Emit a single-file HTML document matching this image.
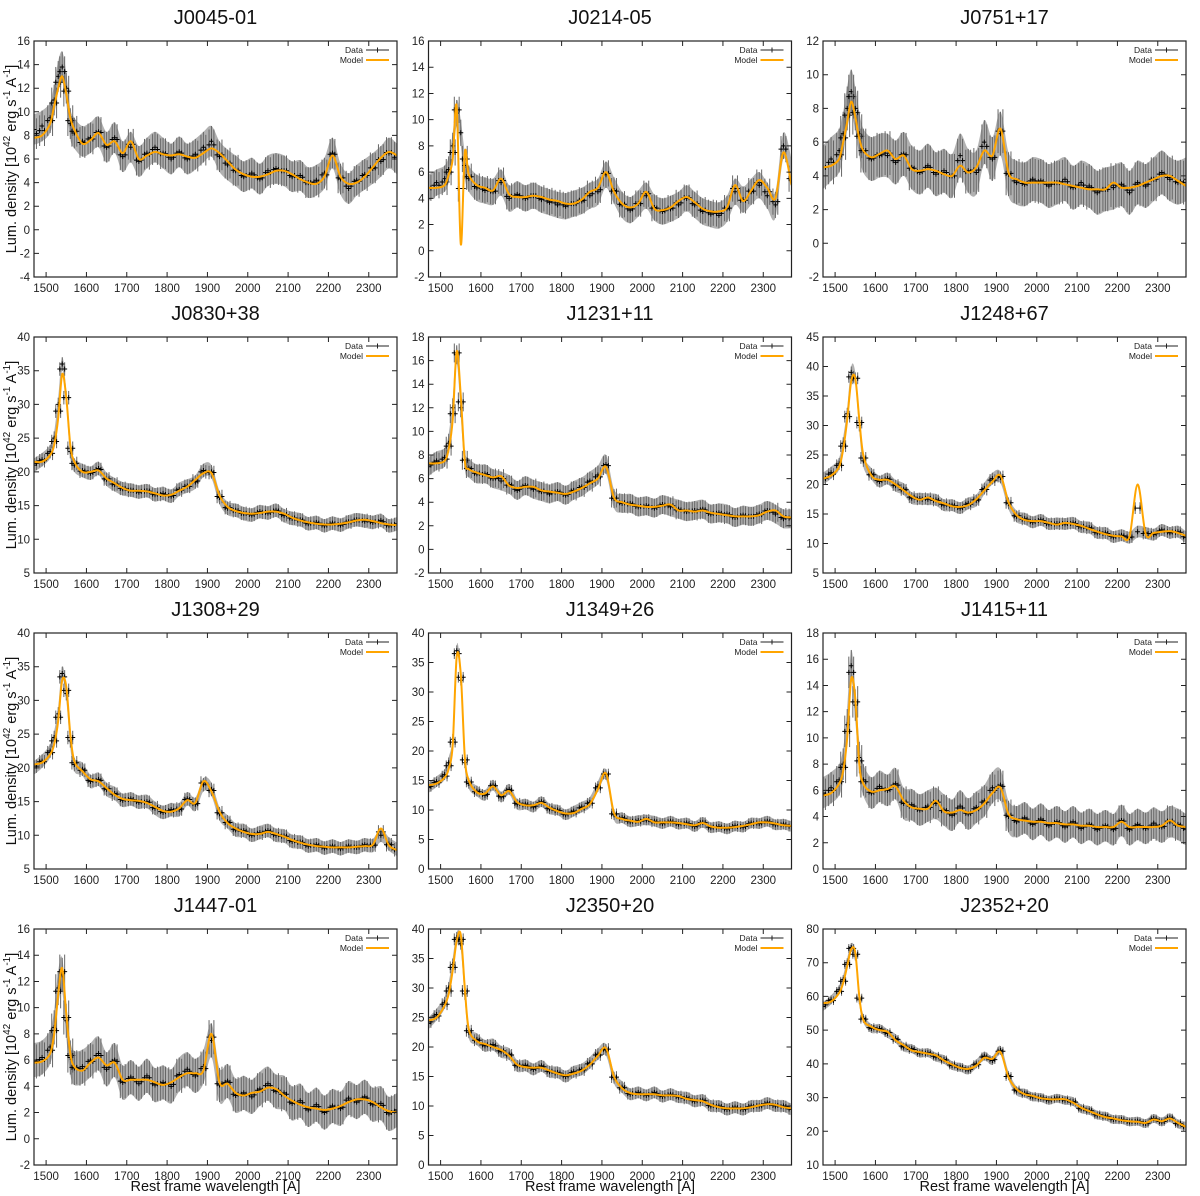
<!DOCTYPE html>
<html><head><meta charset="utf-8">
<style>
html,body{margin:0;padding:0;background:#fff;}
svg{display:block;font-family:"Liberation Sans","DejaVu Sans",sans-serif;}
</style></head>
<body>
<svg id="fig" width="1200" height="1196" viewBox="0 0 1200 1196" xmlns="http://www.w3.org/2000/svg"></svg>
<script>
// Shared wavelength grid (Angstrom)
const grid = [1470,1490,1510,1520,1530,1540,1550,1560,1570,1590,1610,1630,1650,1670,1690,1710,1730,1750,1770,1790,1810,1830,1850,1870,1890,1910,1930,1950,1970,1990,2010,2030,2050,2070,2090,2110,2130,2150,2170,2190,2210,2230,2250,2270,2290,2310,2330,2350,2370];
const xTicks = [1500,1600,1700,1800,1900,2000,2100,2200,2300];
const titles = ["J0045-01","J0214-05","J0751+17","J0830+38","J1231+11","J1248+67","J1308+29","J1349+26","J1415+11","J1447-01","J2350+20","J2352+20"];

const model_J0045 = [7.8,8,9,10.5,12,13,11.5,9.5,8.5,7.3,7.6,8.2,7.2,7.5,6.5,7.5,6.0,6.3,6.6,6.4,6.3,6.4,6.2,6.1,6.5,6.9,6.5,5.8,5.1,4.7,4.5,4.5,4.7,5.0,5.0,4.7,4.3,4.0,3.9,4.5,6.3,4.5,3.9,4.0,4.5,5.3,6.1,6.6,6.3];
const data_J0045  = [8.5,8.8,9.5,11,13,13.8,12,9,8.2,7.5,7.8,8.3,7,7.8,6.2,7,5.8,6.5,7,6.5,6,6.6,6,6.4,7,7.5,6.2,5.5,5,4.5,4.8,4.3,5,5.2,5,4.5,4.6,4.0,4.2,4.8,6.5,4.3,3.5,4.2,4.7,5.2,5.8,6.5,6.0];
const model_J0214 = [4.8,4.8,5.0,5.8,7.0,11,0.5,7.5,5.8,5.0,4.8,4.6,5.5,4.3,4.1,4.1,4.2,4.1,3.9,3.8,3.6,3.6,3.9,4.5,4.8,6.0,4.5,3.6,3.3,3.6,4.5,3.2,3.1,3.3,3.8,4.1,3.7,3.2,3.0,3.0,3.3,5.0,3.8,4.6,5.4,4.8,4.0,7.5,5.0];
const data_J0214  = [4.8,5.2,5.5,6.2,8,10.5,9,6.5,5.5,4.8,4.6,4.5,5.2,4.0,4.3,4.0,4.2,3.9,3.7,3.5,3.4,3.6,3.8,4.2,4.5,5.8,4.6,3.5,3.1,3.6,4.2,3.3,3.0,3.2,3.5,4.0,3.5,3.0,2.8,2.7,3.2,4.5,3.9,4.5,5,4.2,3.5,8.0,6];
const model_J0751 = [4.5,4.6,5.0,6,7.2,8.4,7.5,6.2,5.5,5.1,5.3,5.5,5.0,5.2,4.4,4.3,4.4,4.3,4.1,4.0,4.6,4.2,4.5,5.5,5.2,6.8,4.2,3.8,3.6,3.6,3.6,3.6,3.6,3.5,3.4,3.3,3.2,3.2,3.2,3.6,3.3,3.3,3.4,3.6,3.8,4.0,4.0,3.7,3.4];
const data_J0751  = [4.5,5,5.5,6.5,8,9,8,6.5,5.5,5,5.2,5.2,4.8,5.3,4.5,4.2,4.6,4.1,4.3,4.0,5.2,4.3,4.2,6,5,6.5,4.1,3.6,3.5,3.8,3.7,3.4,3.6,3.8,3.3,3.6,3.4,3.0,3.2,3.3,3.5,3.0,3.6,3.4,3.8,4.2,3.8,3.6,3.8];
const model_J0830 = [21.5,21.5,22.5,24,28,34.5,31,24,21.5,20,20,20.2,19,18.3,17.6,17.2,17.2,17.1,16.8,16.5,16.6,17.2,17.8,18.8,19.8,19.8,16.5,14.8,14.2,13.9,13.8,13.9,14.1,14.1,13.8,13.2,12.8,12.5,12.3,12.2,12.2,12.3,12.5,12.8,12.9,12.7,12.4,12.2,12.1];
const data_J0830  = [21,21.8,23,25,30,36,31,23,21,20.2,19.8,20.5,18.9,18.1,17.5,17.3,17.0,17.2,16.6,16.8,16.4,17.4,17.9,18.5,20.2,20.0,16.2,14.6,14.3,13.8,13.6,14.1,13.9,14.3,13.5,13.1,12.9,12.3,12.5,12.0,12.4,12.1,12.6,12.9,12.7,12.5,12.8,12.0,12.3];
const model_J1231 = [7.3,7.3,7.5,8.5,11,16.8,13,7.5,6.8,6.5,6.3,6.1,6.2,5.4,5.2,5.3,5.3,5.0,4.9,4.8,4.7,4.9,5.2,5.6,6.0,7.0,4.4,4.0,3.8,3.7,3.6,3.6,3.7,3.8,3.3,3.3,3.2,3.3,3.1,3.0,2.9,2.8,2.8,2.8,2.9,3.2,3.3,2.8,2.7];
const data_J1231  = [7,7.5,7.8,9,12,16.5,12,7.6,6.9,6.4,6.4,6.0,5.8,5.5,5.0,5.4,5.1,4.9,4.7,4.9,4.6,5.0,5.3,5.8,6.3,7.2,4.3,3.9,3.9,3.6,3.7,3.5,3.8,3.6,3.4,3.2,3.3,3.4,3.0,3.1,3.0,2.7,2.9,2.8,3.0,3.3,3.0,2.6,2.6];
const model_J1248 = [21,21.5,23,26,31,37.5,38,31,25,21.5,20.8,20.8,20,19,18,17.4,17.8,17.2,16.8,16.3,16.2,16.5,17.5,19,20.5,21.5,17,14.8,14,13.8,13.8,13.5,13.2,13.5,13.3,13,12.5,12,11.6,11.3,11.2,11.2,20,11.6,11.8,12,12.1,11.8,11.3];
const data_J1248  = [21,22,23.5,27,32,39,38,30,24,21.8,20.5,21,19.8,19.2,17.7,17.6,17.5,17.4,16.5,16.5,16.0,16.8,17.3,19.3,21,21.2,16.8,14.6,14.2,13.6,14,13.3,13.4,13.3,13.5,12.8,12.7,11.8,11.8,11.1,11.4,11,12,11.8,11.5,12.3,11.8,12,11.0];
const model_J1308 = [20.5,20.8,22,23.5,27,33,32,25,21,19.5,18.3,18.0,17.0,16.0,15.4,15.2,15.1,14.8,14.2,13.6,13.5,14.0,15.2,14.8,18,16.5,13.5,11.8,11.0,10.5,10.2,10.2,10.5,10.2,9.8,9.3,8.9,8.6,8.4,8.3,8.2,8.2,8.2,8.3,8.4,8.6,11,8.5,7.8];
const data_J1308  = [20,21,22.5,24.5,28,34,31,24,20.5,19.8,18,18.3,16.8,16.2,15.2,15.4,14.9,15,14,13.4,13.8,13.8,15.4,14.6,17.5,16.8,13.2,12,10.8,10.7,10,10.4,10.7,10.0,9.9,9.1,9.0,8.4,8.6,8.1,8.4,8.0,8.4,8.2,8.6,8.5,10,8.7,7.9];
const model_J1349 = [14.2,14.5,15.5,17,21,36,33,19,15,13,12.8,14,12.5,13.2,11.3,10.8,10.8,11.2,10.4,9.8,9.4,9.5,10.2,11.0,13.5,16.2,9.5,8.5,8.2,8.0,8.5,7.9,7.9,7.9,7.8,7.6,7.4,7.8,7.2,7.0,7.0,7.1,7.3,7.6,7.9,7.9,7.7,7.4,7.3];
const data_J1349  = [13.8,14.8,16,18,22,37,32,18,14.5,13.2,12.5,14.2,12.2,13.5,11,11,10.5,11.4,10.2,10,9.2,9.8,10.5,11.3,14,16,9.2,8.7,8,8.2,8.3,8.1,7.7,8.1,7.6,7.8,7.2,7.9,7.0,7.2,6.8,7.3,7.1,7.8,7.7,8.1,7.5,7.6,7.2];
const model_J1415 = [5.6,5.8,6.5,7.5,10,14.5,13,8.0,6.5,5.9,6.0,6.1,6.3,5.2,4.7,4.6,4.6,5.2,4.4,4.3,4.5,4.3,4.5,5.0,5.8,6.2,4.2,3.8,3.7,3.6,3.6,3.5,3.5,3.4,3.4,3.3,3.3,3.2,3.2,3.2,3.6,3.2,3.2,3.2,3.2,3.3,3.7,3.3,3.2];
const data_J1415  = [5.8,6.2,6.8,8,11,15.5,12.5,8.5,6.8,5.8,6.3,6.0,6.5,5.0,4.9,4.5,4.8,5.0,4.5,4.1,4.8,4.2,4.7,5.2,6.2,6.4,4.0,3.6,3.9,3.4,3.8,3.3,3.6,3.2,3.6,3.1,3.4,3.0,3.3,3.0,3.7,3.0,3.4,3.1,3.5,3.2,3.6,3.4,3.0];
const model_J1447 = [5.8,5.9,6.5,8,11,13,9.5,6.5,5.5,5.2,5.8,6.2,5.6,5.8,4.5,4.5,4.5,4.5,4.3,4.1,4.3,4.7,5.0,5.0,5.2,8.0,4.3,4.2,3.5,3.3,3.5,3.6,3.9,3.8,3.3,2.9,2.6,2.4,2.3,2.2,2.3,2.5,2.8,3.0,3.0,2.8,2.4,2.1,2.0];
const data_J1447  = [6,6.2,7,8.5,11.5,12.5,9,6.2,5.4,5.5,6,6.5,5.3,6,4.3,4.7,4.2,4.8,4.1,4.3,4.0,4.9,5.3,4.8,5.5,7.5,4.1,4.4,3.3,3.5,3.2,3.8,4.2,3.6,3.5,2.7,2.9,2.2,2.6,2.0,2.5,2.3,3.1,2.8,3.2,2.6,2.7,1.9,2.2];
const model_J2350 = [24.5,25,27,29,33,38,39,30,23,21,20.5,20,19.5,18.5,17,16.6,16.5,16.5,16,15.5,15.2,15.5,16,17,18.5,19.8,15,13,12.2,12.0,12.0,12.0,11.8,11.8,11.7,11.2,11.0,10.8,10.2,9.8,9.6,9.6,9.6,9.8,10.1,10.3,10.2,9.8,9.6];
const data_J2350  = [24,25.5,27.5,30,34,38.5,37.5,29,22.5,21.3,20.2,20.4,19.2,18.8,16.8,16.9,16.2,16.8,15.8,15.7,15.0,15.8,16.2,17.3,18.8,19.5,14.8,13.2,12.0,12.3,11.8,12.3,11.6,12.0,11.5,11.4,10.8,11.0,10.0,10.0,9.4,9.8,9.4,10.0,10.0,10.5,10.0,10.0,9.4];
const model_J2352 = [58,58.5,61,64,69,74,73,60,53,51,50,49.5,47,45.5,44,43.5,43,42.5,41,39.8,38.8,38.5,39.5,41.8,41.5,43.5,36,32.5,31,30.5,29.8,29.5,29.5,29.5,28.5,27,26,25,24.2,23.8,23.3,23,22.8,22.5,23.5,23,23.8,22.5,21.3];
const data_J2352  = [57,59,62,65,70,74.5,72,59,53.5,50.5,50.5,49,47.5,45,44.5,43.2,43.3,42,41.3,39.5,39,38.2,40,42.3,41,44,36.5,32,31.3,30.2,30,29.2,29.8,29.2,28.8,26.7,26.2,24.8,24.5,23.5,23.5,22.8,23,22.3,23.8,22.8,24,22.2,21.5];

const panelModels = [model_J0045,model_J0214,model_J0751,model_J0830,model_J1231,model_J1248,model_J1308,model_J1349,model_J1415,model_J1447,model_J2350,model_J2352];
const panelData   = [data_J0045,data_J0214,data_J0751,data_J0830,data_J1231,data_J1248,data_J1308,data_J1349,data_J1415,data_J1447,data_J2350,data_J2352];
const yMins  = [-4,-2,-2,5,-2,5,5,0,0,-2,0,10];
const yMaxs  = [16,16,12,40,18,45,40,40,18,16,40,80];
const ySteps = [2,2,2,5,2,5,5,5,2,2,5,10];
const errs   = [1.3,1.0,1.3,1.0,0.8,1.0,1.0,0.9,1.2,1.3,1.0,1.3];

const NS = "http://www.w3.org/2000/svg";
const svg = document.getElementById('fig');
const XMIN = 1470, XMAX = 2370;
function mk(tag, attrs, parent){ const e=document.createElementNS(NS,tag); for(const k in attrs) e.setAttribute(k,attrs[k]); (parent||svg).appendChild(e); return e; }
function splinePath(pts){
  let d = `M${pts[0][0].toFixed(1)},${pts[0][1].toFixed(1)}`;
  for(let i=0;i<pts.length-1;i++){
    const p0=pts[Math.max(0,i-1)], p1=pts[i], p2=pts[i+1], p3=pts[Math.min(pts.length-1,i+2)];
    const c1=[p1[0]+(p2[0]-p0[0])/6, p1[1]+(p2[1]-p0[1])/6];
    const c2=[p2[0]-(p3[0]-p1[0])/6, p2[1]-(p3[1]-p1[1])/6];
    d += ` C${c1[0].toFixed(1)},${c1[1].toFixed(1)} ${c2[0].toFixed(1)},${c2[1].toFixed(1)} ${p2[0].toFixed(1)},${p2[1].toFixed(1)}`;
  }
  return d;
}

for(let p=0;p<12;p++){
  const col=p%3, row=Math.floor(p/3);
  const L = 34 + col*394.5, T = 41 + row*296, W = 363, H = 236;
  const ymin=yMins[p], ymax=yMaxs[p];
  const sx = x => L + (x-XMIN)/(XMAX-XMIN)*W;
  const sy = y => T + H - (Math.max(ymin,Math.min(ymax,y))-ymin)/(ymax-ymin)*H;
  const g = mk('g',{});
  
  

  const title = mk('text',{x:L+W/2,y:T-17,'text-anchor':'middle','font-size':'20',fill:'#111'},g);
  title.textContent = titles[p];
  
  

  const clipId='clip'+p;
  const cp = mk('clipPath',{id:clipId},g); mk('rect',{x:L,y:T,width:W,height:H},cp);
  const plot = mk('g',{'clip-path':`url(#${clipId})`},g);

  const model = panelModels[p], data = panelData[p], err = errs[p];
  const n = Math.min(grid.length, model.length, data.length);

  // error envelope from data
  const up=[], dn=[];
  for(let i=0;i<n;i++){ up.push([sx(grid[i]), sy(data[i]+err)]); dn.push([sx(grid[i]), sy(data[i]-err)]); }
  const band = mk('path',{d: splinePath(up) + ' L' + splinePath(dn.slice().reverse()).slice(1) + ' Z', fill:'#444','fill-opacity':'0.42',stroke:'none'},plot);
  
  

  // data points with error bars
  for(let i=0;i<n;i++){
    for(const off of [-6,0,6]){
      const x = sx(grid[i]+off*(i%2?1:-1)), v = data[i] + (off===0?0:(model[i]-data[i])*0.5);
      const eb = mk('line',{x1:x,x2:x,y1:sy(v-err),y2:sy(v+err),stroke:'#666','stroke-width':'1'},plot);
      
      
      const cr = mk('path',{d:`M${x-2.5},${sy(v)}h5M${x},${sy(v)-2.5}v5`,stroke:'#000','stroke-width':'1'},plot);
      
      
    }
  }

  // model line
  const mpts=[]; for(let i=0;i<n;i++) mpts.push([sx(grid[i]), sy(model[i])]);
  const ml = mk('path',{d:splinePath(mpts),fill:'none',stroke:'#FFA500','stroke-width':'2'},plot);
  
  

  // frame
  const fr = mk('rect',{x:L,y:T,width:W,height:H,fill:'none',stroke:'#222','stroke-width':'1.2'},g);
  
  

  // x ticks
  xTicks.forEach(t=>{
    const x=sx(t);
    mk('path',{d:`M${x},${T+H}v-5M${x},${T}v5`,stroke:'#222','stroke-width':'1'},g);
    const tl = mk('text',{x:x,y:T+H+15,'text-anchor':'middle','font-size':'11.5',fill:'#222'},g);
    tl.textContent = t;
    
    
  });
  // y ticks
  for(let v=ymin; v<=ymax+1e-9; v+=ySteps[p]){
    const y=sy(v);
    mk('path',{d:`M${L},${y}h5M${L+W},${y}h-5`,stroke:'#222','stroke-width':'1'},g);
    const yl = mk('text',{x:L-4,y:y+4,'text-anchor':'end','font-size':'11.5',fill:'#222'},g);
    yl.textContent = v;
    
    
  }

  // legend
  const lg = mk('g',{},g);
  
  
  const t1 = mk('text',{x:L+W-34,y:T+12,'text-anchor':'end','font-size':'8.5',fill:'#222'},lg); t1.textContent='Data';
  
  
  mk('path',{d:`M${L+W-31},${T+9}h23M${L+W-19.5},${T+6.5}v5`,stroke:'#222','stroke-width':'1'},lg);
  const t2 = mk('text',{x:L+W-34,y:T+22,'text-anchor':'end','font-size':'8.5',fill:'#222'},lg); t2.textContent='Model';
  
  
  mk('path',{d:`M${L+W-31},${T+19}h23`,stroke:'#FFA500','stroke-width':'2'},lg);

  if(col===0){
    const yt = mk('text',{transform:`translate(16,${T+H/2}) rotate(-90)`,'text-anchor':'middle','font-size':'14.5',fill:'#111'},g);
    
    
    yt.innerHTML = 'Lum. density [10<tspan dy="-6" font-size="10">42</tspan><tspan dy="6"> erg s</tspan><tspan dy="-6" font-size="10">-1</tspan><tspan dy="6"> A</tspan><tspan dy="-6" font-size="10">-1</tspan><tspan dy="6">]</tspan>';
  }
  if(row===3){
    const xt = mk('text',{x:L+W/2,y:1191,'text-anchor':'middle','font-size':'14.5',fill:'#111'},g);
    xt.textContent = 'Rest frame wavelength [A]';
    
    
  }
}
</script>
</body></html>
